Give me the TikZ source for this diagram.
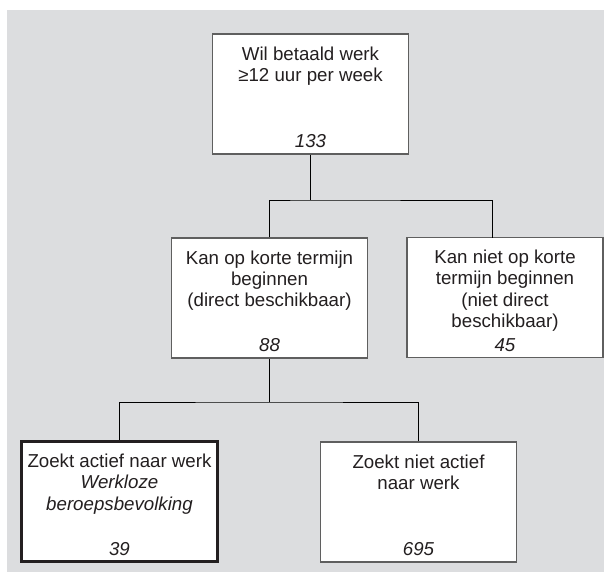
\documentclass[tikz,border=0pt]{standalone}
\usepackage{fontspec}
\setmainfont{Liberation Sans}
\definecolor{bggray}{RGB}{220,221,223}
\definecolor{boxline}{RGB}{95,95,95}
\definecolor{inkc}{RGB}{35,31,32}
\newcommand{\boxtext}[2]{\parbox[c][120pt][t]{196pt}{\centering\vspace*{12pt}\rule{0pt}{14pt}#1\par\vfill\textit{#2}\par\vspace{6pt}}}
\begin{document}
\begin{tikzpicture}[x=1pt,y=-1pt,
		font=\fontsize{18.7}{21.4}\selectfont,
		catbox/.style={draw=boxline, line width=1.2pt, fill=white, inner sep=0pt, text=inkc},
		keybox/.style={catbox, draw=inkc, line width=2.6pt},
		link/.style={draw=black, line width=1pt}]
			\useasboundingbox (0,0) rectangle (604,578);
			\fill[bggray] (7,10) rectangle (604,572);
			\node[catbox] (top) at (310.5,94) {\boxtext{Wil betaald werk\\≥12 uur per week}{133}};
			\node[catbox] (midl) at (269.5,298) {\boxtext{Kan op korte termijn\\beginnen\\(direct beschikbaar)}{88}};
			\node[catbox] (midr) at (505,297.5) {\boxtext{Kan niet op korte\\termijn beginnen\\(niet direct\\beschikbaar)}{45}};
			\node[keybox] (botl) at (119.5,501.5) {\boxtext{Zoekt actief naar werk\\\textit{Werkloze}\\\textit{beroepsbevolking}}{39}};
			\node[catbox] (botr) at (418.5,502) {\boxtext{Zoekt niet actief\\naar werk}{695}};
			\coordinate (split1) at (310.5,200);
			\coordinate (rdrop) at (492,237.5);
			\coordinate (split2) at (269.5,402);
			\draw[link] (top) -- (split1);
			\draw[link] (midl.north) |- (split1) -| (rdrop);
			\draw[link] (midl) -- (split2);
			\draw[link] (botl.north) |- (split2) -| (botr.north);
		\end{tikzpicture}
\end{document}
